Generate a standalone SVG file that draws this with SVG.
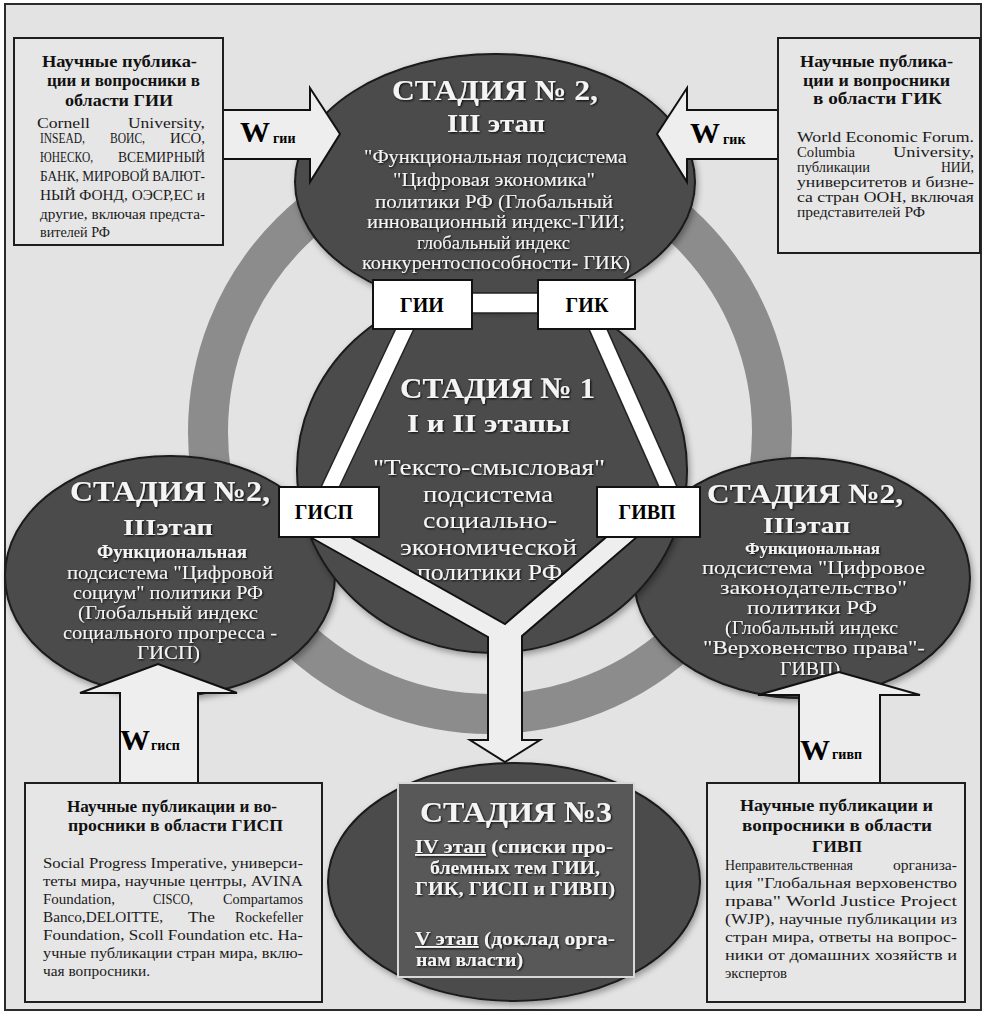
<svg xmlns="http://www.w3.org/2000/svg" width="983" height="1013" viewBox="0 0 983 1013">
<defs>
<style>
text{font-family:"Liberation Serif","Times New Roman",serif}
.frame{fill:#e3e3e3;stroke:#2b2b2b;stroke-width:2}
.box{fill:#e6e6e6;stroke:#1e1e1e;stroke-width:2}
.ell{fill:#4c4c4c;stroke:#1a1a1a;stroke-width:2}
.ring{fill:none;stroke:#8c8c8c;stroke-width:40}
.arrow{fill:#eeeeee;stroke:#111;stroke-width:2}
.bandO{stroke:#222;stroke-width:18;fill:none}
.bandI{stroke:#fff;stroke-width:15;fill:none}
.lbl{fill:#fff;stroke:#111;stroke-width:2}
.hd{font-weight:bold;font-size:16px;fill:#111}
.bd{font-size:14px;fill:#1a1a1a}
.wt{fill:#f4f4f4;filter:url(#sh)}
.b{font-weight:bold}
.lt{font-weight:bold;font-size:20px;fill:#000;text-anchor:middle}
.W{font-weight:bold;font-size:30px;fill:#000}
.Ws{font-weight:bold;font-size:14px;fill:#000}
.ul{text-decoration:underline}
</style>
<filter id="sh" x="-10%" y="-40%" width="120%" height="180%"><feDropShadow dx="1" dy="1" stdDeviation="0.8" flood-color="#000" flood-opacity="0.9"/></filter>
<filter id="esh" x="-10%" y="-10%" width="120%" height="125%"><feDropShadow dx="2" dy="3" stdDeviation="3" flood-color="#000" flood-opacity="0.35"/></filter>
</defs>

<rect class="frame" x="5" y="4" width="976" height="1006"/>

<g id="ring"><circle class="ring" cx="490" cy="432" r="282"/></g>

<g id="stage2-left">
<ellipse class="ell" filter="url(#esh)" cx="170" cy="576" rx="165" ry="120"/>
<text class="wt b" x="70" y="501" font-size="29" textLength="200" lengthAdjust="spacingAndGlyphs">СТАДИЯ №2,</text>
<text class="wt b" x="123" y="535" font-size="24" textLength="90" lengthAdjust="spacingAndGlyphs">IIIэтап</text>
<text class="wt b" x="97" y="558" font-size="18" textLength="150" lengthAdjust="spacingAndGlyphs">Функциональная</text>
<text class="wt" x="67" y="579" font-size="19" textLength="206" lengthAdjust="spacingAndGlyphs">подсистема "Цифровой</text>
<text class="wt" x="73" y="599" font-size="19" textLength="190" lengthAdjust="spacingAndGlyphs">социум" политики РФ</text>
<text class="wt" x="78" y="619" font-size="19" textLength="180" lengthAdjust="spacingAndGlyphs">(Глобальный индекс</text>
<text class="wt" x="63" y="639" font-size="19" textLength="214" lengthAdjust="spacingAndGlyphs">социального прогресса -</text>
<text class="wt" x="137" y="659" font-size="19" textLength="63" lengthAdjust="spacingAndGlyphs">ГИСП)</text>
</g>

<g id="stage2-right">
<ellipse class="ell" filter="url(#esh)" cx="802" cy="578" rx="168" ry="120"/>
<text class="wt b" x="707" y="503" font-size="28" textLength="196" lengthAdjust="spacingAndGlyphs">СТАДИЯ №2,</text>
<text class="wt b" x="763" y="533" font-size="23" textLength="87" lengthAdjust="spacingAndGlyphs">IIIэтап</text>
<text class="wt b" x="745" y="554" font-size="17" textLength="135" lengthAdjust="spacingAndGlyphs">Функциональная</text>
<text class="wt" x="702" y="574" font-size="19" textLength="223" lengthAdjust="spacingAndGlyphs">подсистема "Цифровое</text>
<text class="wt" x="720" y="594" font-size="19" textLength="187" lengthAdjust="spacingAndGlyphs">законодательство"</text>
<text class="wt" x="747" y="614" font-size="19" textLength="130" lengthAdjust="spacingAndGlyphs">политики РФ</text>
<text class="wt" x="725" y="634" font-size="19" textLength="173" lengthAdjust="spacingAndGlyphs">(Глобальный индекс</text>
<text class="wt" x="703" y="654" font-size="19" textLength="222" lengthAdjust="spacingAndGlyphs">"Верховенство права"-</text>
<text class="wt" x="780" y="675" font-size="19" textLength="60" lengthAdjust="spacingAndGlyphs">ГИВП)</text>
</g>

<g id="stage1">
<ellipse class="ell" filter="url(#esh)" cx="492" cy="470" rx="195" ry="183"/>
<text class="wt b" x="400" y="398" font-size="30" textLength="195" lengthAdjust="spacingAndGlyphs">СТАДИЯ № 1</text>
<text class="wt b" x="407" y="432" font-size="26" textLength="163" lengthAdjust="spacingAndGlyphs">I и II  этапы</text>
<text class="wt" x="373" y="475" font-size="23" textLength="232" lengthAdjust="spacingAndGlyphs">"Тексто-смысловая"</text>
<text class="wt" x="423" y="502" font-size="23" textLength="130" lengthAdjust="spacingAndGlyphs">подсистема</text>
<text class="wt" x="423" y="528" font-size="23" textLength="134" lengthAdjust="spacingAndGlyphs">социально-</text>
<text class="wt" x="400" y="555" font-size="23" textLength="177" lengthAdjust="spacingAndGlyphs">экономической</text>
<text class="wt" x="417" y="580" font-size="23" textLength="145" lengthAdjust="spacingAndGlyphs">политики РФ</text>
</g>

<g id="stage2-top">
<ellipse class="ell" filter="url(#esh)" cx="495" cy="182" rx="200" ry="128"/>
<text class="wt b" x="392" y="100" font-size="29" textLength="206" lengthAdjust="spacingAndGlyphs">СТАДИЯ № 2,</text>
<text class="wt b" x="447" y="132" font-size="26" textLength="98" lengthAdjust="spacingAndGlyphs">III этап</text>
<text class="wt" x="364" y="163" font-size="19" textLength="263" lengthAdjust="spacingAndGlyphs">"Функциональная подсистема</text>
<text class="wt" x="393" y="186" font-size="19" textLength="202" lengthAdjust="spacingAndGlyphs">"Цифровая экономика"</text>
<text class="wt" x="375" y="208" font-size="19" textLength="238" lengthAdjust="spacingAndGlyphs">политики РФ (Глобальный</text>
<text class="wt" x="367" y="228" font-size="19" textLength="258" lengthAdjust="spacingAndGlyphs">инновационный индекс-ГИИ;</text>
<text class="wt" x="417" y="249" font-size="19" textLength="153" lengthAdjust="spacingAndGlyphs">глобальный индекс</text>
<text class="wt" x="362" y="269" font-size="19" textLength="268" lengthAdjust="spacingAndGlyphs">конкурентоспособности- ГИК)</text>
</g>

<g id="stage3">
<ellipse class="ell" filter="url(#esh)" cx="514" cy="882" rx="186" ry="119"/>
<rect x="398" y="783" width="236" height="194" fill="#585858" stroke="#d8d8d8" stroke-width="2"/>
<text class="wt b" x="420" y="822" font-size="30" textLength="192" lengthAdjust="spacingAndGlyphs">СТАДИЯ №3</text>
<text class="wt b" x="415" y="853" font-size="19" textLength="198" lengthAdjust="spacingAndGlyphs"><tspan class="ul">IV этап</tspan> (списки про-</text>
<text class="wt b" x="430" y="874" font-size="19" textLength="170" lengthAdjust="spacingAndGlyphs">блемных тем ГИИ,</text>
<text class="wt b" x="415" y="895" font-size="19" textLength="200" lengthAdjust="spacingAndGlyphs">ГИК, ГИСП и ГИВП)</text>
<text class="wt b" x="415" y="945" font-size="19" textLength="200" lengthAdjust="spacingAndGlyphs"><tspan class="ul">V этап</tspan> (доклад орга-</text>
<text class="wt b" x="416" y="966" font-size="19" textLength="107" lengthAdjust="spacingAndGlyphs">нам власти)</text>
</g>

<g id="connectors">
<line class="bandO" x1="410" y1="318" x2="325" y2="498"/>
<line class="bandO" x1="593" y1="318" x2="673" y2="498"/>
<line class="bandI" x1="410" y1="318" x2="325" y2="498"/>
<line class="bandI" x1="593" y1="318" x2="673" y2="498"/>
<rect x="465" y="293" width="80" height="20" fill="#fff" stroke="#222" stroke-width="1.5"/>
<polygon class="arrow" fill="#fff" points="313,516 505,624 632,515 645,530 522,636 522,740 540,740 505,762 470,740 488,740 488,637 303,533"/>
<polygon class="arrow" points="223,110 310,110 310,88 340,134 310,182 310,159 223,159"/>
<polygon class="arrow" points="778,110 687,110 687,88 657,134 687,182 687,159 778,159"/>
<polygon class="arrow" points="120,783 120,693 80,693 158,664 237,693 198,693 198,783"/>
<polygon class="arrow" points="799,783 799,695 758,695 839,672 920,695 880,695 880,783"/>
<text class="W" x="240" y="142">W</text><text class="Ws" x="273" y="143">гии</text>
<text class="W" x="690" y="143">W</text><text class="Ws" x="723" y="144">гик</text>
<text class="W" x="120" y="750">W</text><text class="Ws" x="151" y="750">гисп</text>
<text class="W" x="800" y="760">W</text><text class="Ws" x="832" y="759">гивп</text>
</g>

<g id="lbl-gii"><rect class="lbl" x="373" y="280" width="99" height="49"/><text class="lt" x="422" y="312">ГИИ</text></g>
<g id="lbl-gik"><rect class="lbl" x="538" y="280" width="97" height="49"/><text class="lt" x="587" y="312">ГИК</text></g>
<g id="lbl-gisp"><rect class="lbl" x="279" y="487" width="100" height="50"/><text class="lt" x="324" y="519">ГИСП</text></g>
<g id="lbl-givp"><rect class="lbl" x="597" y="487" width="103" height="50"/><text class="lt" x="647" y="519">ГИВП</text></g>

<g id="src-gii">
<rect class="box" x="14" y="38" width="209" height="207"/>
<text class="hd" x="42" y="67" textLength="155" lengthAdjust="spacingAndGlyphs">Научные публика-</text>
<text class="hd" x="47" y="86" textLength="153" lengthAdjust="spacingAndGlyphs">ции и вопросники в</text>
<text class="hd" x="65" y="106" textLength="108" lengthAdjust="spacingAndGlyphs">области ГИИ</text>
<text class="bd" x="37" y="128" font-size="17" textLength="53" lengthAdjust="spacingAndGlyphs">Cornell</text>
<text class="bd" x="128" y="128" font-size="17" textLength="77" lengthAdjust="spacingAndGlyphs">University,</text>
<text class="bd" x="40" y="143" font-size="13" textLength="45" lengthAdjust="spacingAndGlyphs">INSEAD,</text>
<text class="bd" x="110" y="143" font-size="13" textLength="35" lengthAdjust="spacingAndGlyphs">ВОИС,</text>
<text class="bd" x="170" y="143" font-size="13" textLength="35" lengthAdjust="spacingAndGlyphs">ИСО,</text>
<text class="bd" x="40" y="162" font-size="13" textLength="53" lengthAdjust="spacingAndGlyphs">ЮНЕСКО,</text>
<text class="bd" x="118" y="162" font-size="13" textLength="87" lengthAdjust="spacingAndGlyphs">ВСЕМИРНЫЙ</text>
<text class="bd" x="40" y="181" font-size="13" textLength="165" lengthAdjust="spacingAndGlyphs">БАНК, МИРОВОЙ ВАЛЮТ-</text>
<text class="bd" x="40" y="200" font-size="13" textLength="165" lengthAdjust="spacingAndGlyphs">НЫЙ ФОНД, ОЭСР,ЕС и</text>
<text class="bd" x="40" y="219" font-size="13" textLength="165" lengthAdjust="spacingAndGlyphs">другие, включая предста-</text>
<text class="bd" x="40" y="237" font-size="13" textLength="70" lengthAdjust="spacingAndGlyphs">вителей РФ</text>
</g>

<g id="src-gik">
<rect class="box" x="778" y="38" width="202" height="215"/>
<text class="hd" x="800" y="67" textLength="153" lengthAdjust="spacingAndGlyphs">Научные публика-</text>
<text class="hd" x="803" y="86" textLength="147" lengthAdjust="spacingAndGlyphs">ции и вопросники</text>
<text class="hd" x="813" y="104" textLength="129" lengthAdjust="spacingAndGlyphs">в области ГИК</text>
<text class="bd" x="797" y="142" textLength="177" lengthAdjust="spacingAndGlyphs">World Economic Forum.</text>
<text class="bd" x="797" y="157" textLength="58" lengthAdjust="spacingAndGlyphs">Columbia</text>
<text class="bd" x="893" y="157" textLength="81" lengthAdjust="spacingAndGlyphs">University,</text>
<text class="bd" x="797" y="172" textLength="73" lengthAdjust="spacingAndGlyphs">публикации</text>
<text class="bd" x="941" y="172" textLength="33" lengthAdjust="spacingAndGlyphs">НИИ,</text>
<text class="bd" x="797" y="187" textLength="177" lengthAdjust="spacingAndGlyphs">университетов и бизне-</text>
<text class="bd" x="797" y="202" textLength="177" lengthAdjust="spacingAndGlyphs">са стран ООН, включая</text>
<text class="bd" x="797" y="217" textLength="128" lengthAdjust="spacingAndGlyphs">представителей РФ</text>
</g>

<g id="src-gisp">
<rect class="box" x="25" y="783" width="297" height="219"/>
<text class="hd" x="67" y="812" font-size="17" textLength="210" lengthAdjust="spacingAndGlyphs">Научные публикации и во-</text>
<text class="hd" x="68" y="831" font-size="17" textLength="215" lengthAdjust="spacingAndGlyphs">просники в области ГИСП</text>
<text class="bd" x="43" y="868" textLength="260" lengthAdjust="spacingAndGlyphs">Social Progress Imperative, универси-</text>
<text class="bd" x="43" y="886" textLength="260" lengthAdjust="spacingAndGlyphs">теты мира, научные центры, AVINA</text>
<text class="bd" x="43" y="904" textLength="72" lengthAdjust="spacingAndGlyphs">Foundation,</text>
<text class="bd" x="153" y="904" textLength="40" lengthAdjust="spacingAndGlyphs">CISCO,</text>
<text class="bd" x="223" y="904" textLength="80" lengthAdjust="spacingAndGlyphs">Compartamos</text>
<text class="bd" x="43" y="922" textLength="120" lengthAdjust="spacingAndGlyphs">Banco,DELOITTE,</text>
<text class="bd" x="188" y="922" textLength="27" lengthAdjust="spacingAndGlyphs">The</text>
<text class="bd" x="235" y="922" textLength="68" lengthAdjust="spacingAndGlyphs">Rockefeller</text>
<text class="bd" x="43" y="940" textLength="260" lengthAdjust="spacingAndGlyphs">Foundation, Scoll Foundation etc. На-</text>
<text class="bd" x="43" y="958" textLength="260" lengthAdjust="spacingAndGlyphs">учные публикации стран мира, вклю-</text>
<text class="bd" x="43" y="976" textLength="107" lengthAdjust="spacingAndGlyphs">чая вопросники.</text>
</g>

<g id="src-givp">
<rect class="box" x="707" y="783" width="258" height="219"/>
<text class="hd" x="740" y="811" font-size="17" textLength="193" lengthAdjust="spacingAndGlyphs">Научные публикации и</text>
<text class="hd" x="742" y="831" font-size="17" textLength="190" lengthAdjust="spacingAndGlyphs">вопросники в области</text>
<text class="hd" x="812" y="852" font-size="17" textLength="50" lengthAdjust="spacingAndGlyphs">ГИВП</text>
<text class="bd" x="725" y="870" textLength="128" lengthAdjust="spacingAndGlyphs">Неправительственная</text>
<text class="bd" x="893" y="870" textLength="64" lengthAdjust="spacingAndGlyphs">организа-</text>
<text class="bd" x="725" y="888" textLength="232" lengthAdjust="spacingAndGlyphs">ция "Глобальная верховенство</text>
<text class="bd" x="725" y="906" textLength="232" lengthAdjust="spacingAndGlyphs">права" World Justice Project</text>
<text class="bd" x="725" y="924" textLength="232" lengthAdjust="spacingAndGlyphs">(WJP), научные публикации из</text>
<text class="bd" x="725" y="942" textLength="232" lengthAdjust="spacingAndGlyphs">стран мира, ответы на вопрос-</text>
<text class="bd" x="725" y="960" textLength="232" lengthAdjust="spacingAndGlyphs">ники от домашних хозяйств и</text>
<text class="bd" x="725" y="978" textLength="62" lengthAdjust="spacingAndGlyphs">экспертов</text>
</g>
</svg>
